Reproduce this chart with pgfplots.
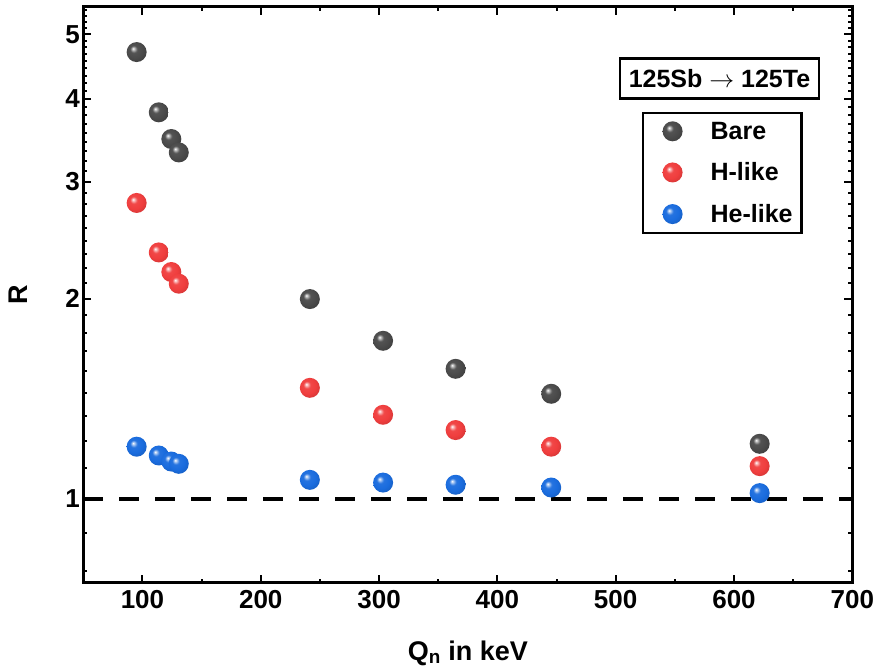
\documentclass[border=0pt]{standalone}
\usepackage{pgfplots}
\pgfplotsset{compat=1.18}
\usepackage{fontspec}
\setmainfont{Liberation Sans}
\definecolor{cBare}{RGB}{74,74,74}
\definecolor{cH}{RGB}{240,62,62}
\definecolor{cHe}{RGB}{26,108,222}
\pgfdeclareradialshading{shBare}{\pgfpoint{-9bp}{9bp}}{color(0bp)=(white); color(3bp)=(cBare!35!white); color(9bp)=(cBare!95!white); color(20bp)=(cBare); color(34bp)=(cBare!80!black); color(50bp)=(cBare!80!black)}
\pgfdeclareradialshading{shH}{\pgfpoint{-9bp}{9bp}}{color(0bp)=(white); color(3bp)=(cH!35!white); color(9bp)=(cH!95!white); color(20bp)=(cH); color(34bp)=(cH!85!black); color(50bp)=(cH!85!black)}
\pgfdeclareradialshading{shHe}{\pgfpoint{-9bp}{9bp}}{color(0bp)=(white); color(3bp)=(cHe!35!white); color(9bp)=(cHe!95!white); color(20bp)=(cHe); color(34bp)=(cHe!85!black); color(50bp)=(cHe!85!black)}
\pgfdeclareplotmark{ballBare}{\pgfpathcircle{\pgfpointorigin}{\pgfplotmarksize}\pgfshadepath{shBare}{0}\pgfusepath{discard}}
\pgfdeclareplotmark{ballH}{\pgfpathcircle{\pgfpointorigin}{\pgfplotmarksize}\pgfshadepath{shH}{0}\pgfusepath{discard}}
\pgfdeclareplotmark{ballHe}{\pgfpathcircle{\pgfpointorigin}{\pgfplotmarksize}\pgfshadepath{shHe}{0}\pgfusepath{discard}}
\begin{document}
\begin{tikzpicture}
\begin{axis}[
  scale only axis, width=769pt, height=576pt,
  xmin=50, xmax=700, ymode=log, ymin=0.748, ymax=5.5,
  xtick={100,200,...,700}, minor x tick num=1,
  ytick={1,2,3,4,5}, yticklabels={1,2,3,4,5},
  minor ytick={0.7778,0.8889,
1.1111,1.2222,1.3333,1.4444,1.5556,1.6667,1.7778,1.8889,
2.1111,2.2222,2.3333,2.4444,2.5556,2.6667,2.7778,2.8889,
3.1111,3.2222,3.3333,3.4444,3.5556,3.6667,3.7778,3.8889,
4.1111,4.2222,4.3333,4.4444,4.5556,4.6667,4.7778,4.8889,
5.1111,5.2222,5.3333,5.4444},
  tick align=inside, major tick length=8pt, minor tick length=4pt,
  axis line style={line width=3pt},
  tick style={black, line width=2pt},
  tick label style={font=\fontsize{26}{31}\selectfont\bfseries},
  xticklabel style={yshift=-4pt},
  /pgf/number format/assume math mode=true,
  xlabel={Q\textsubscript{n} in keV},
  ylabel={R},
  every axis x label/.style={at={(axis description cs:0.5,-0.122)}, anchor=center, font=\fontsize{27}{32}\selectfont\bfseries},
  every axis y label/.style={at={(axis description cs:-0.085,0.5)}, rotate=90, anchor=center, font=\fontsize{27}{32}\selectfont\bfseries},
  legend style={at={(0.726,0.8177)}, anchor=north west, draw=black, line width=2.5pt,
    font=\fontsize{25}{29}\selectfont\bfseries, row sep=18pt, column sep=26pt, inner xsep=7pt, inner ysep=7pt},
  legend image code/.code={\path (0pt,0pt); \draw[#1] plot coordinates {(21.5pt,0pt)};},
  legend cell align=left,
]
\addplot[black, line width=3.5pt, dash pattern=on 20pt off 16pt, forget plot] coordinates {(50,1) (700,1)};
\addplot[only marks, mark=ballBare, mark size=10pt] coordinates {
(95.1,4.70) (113.8,3.815) (124.4,3.478) (130.7,3.320) (241.5,1.998) (303.4,1.729) (364.7,1.569) (445.5,1.439) (621.7,1.210)};
\addlegendentry{Bare}
\addplot[only marks, mark=ballH, mark size=10pt] coordinates {
(95.1,2.787) (113.8,2.348) (124.4,2.194) (130.7,2.107) (241.5,1.469) (303.4,1.338) (364.7,1.269) (445.5,1.198) (621.7,1.120)};
\addlegendentry{H-like}
\addplot[only marks, mark=ballHe, mark size=10pt] coordinates {
(95.1,1.198) (113.8,1.162) (124.4,1.138) (130.7,1.129) (241.5,1.068) (303.4,1.058) (364.7,1.050) (445.5,1.040) (621.7,1.020)};
\addlegendentry{He-like}
\node[draw, line width=2.5pt, minimum width=199pt, minimum height=40pt, inner sep=0pt, font=\fontsize{25}{29}\selectfont\bfseries] at (rel axis cs:0.8273,0.8757) {125Sb $\rightarrow$ 125Te};
\end{axis}
\pgfresetboundingbox
\path (current axis.south west) ++(-83.3pt,-89.3pt) rectangle ++(879pt,672pt);
\end{tikzpicture}
\end{document}
